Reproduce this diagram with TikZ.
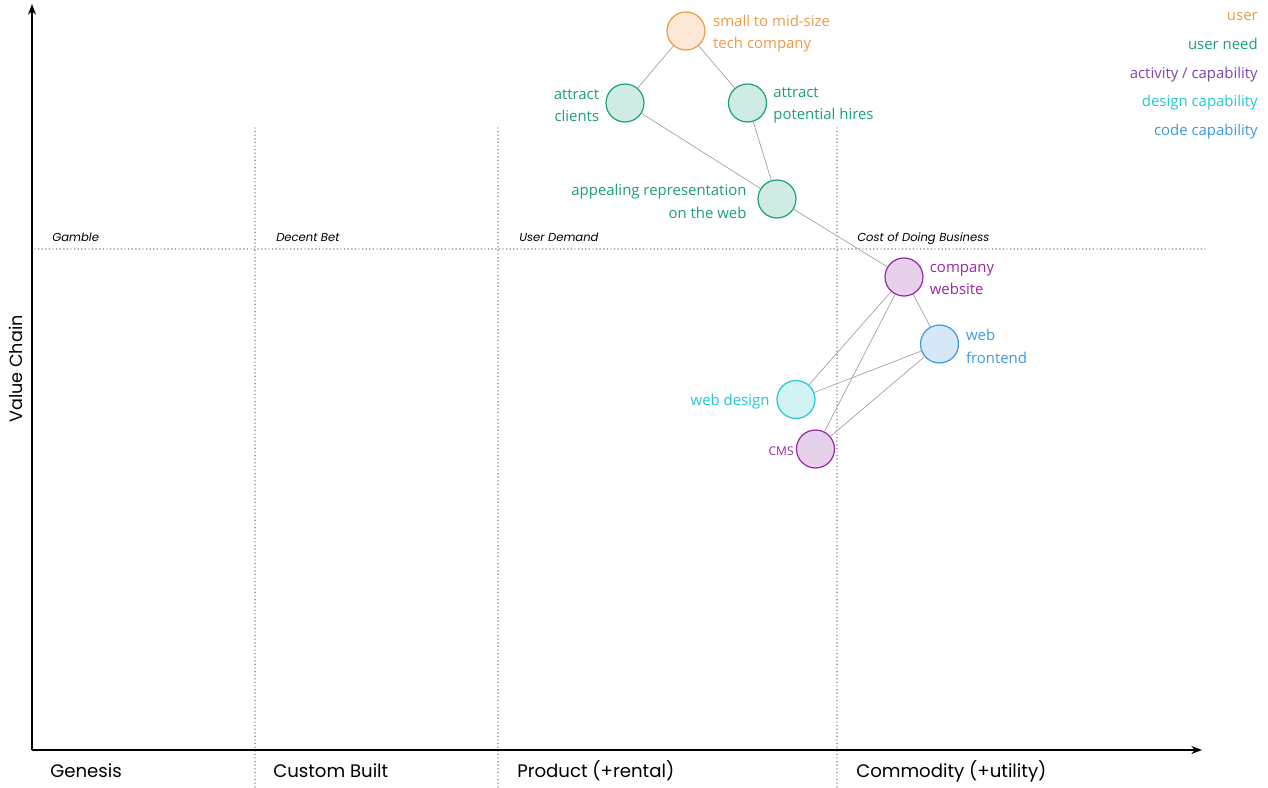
\documentclass[tikz,border=0pt]{standalone}
\usepackage{fontspec}
\setmainfont{Open Sans}
\newfontfamily\mapfont{Poppins}
\usetikzlibrary{positioning,arrows.meta}

\definecolor{userclr}{HTML}{EE9A45}
\definecolor{userfill}{HTML}{FCE8D5}
\definecolor{needclr}{HTML}{1A9E7E}
\definecolor{needfill}{HTML}{CFEBE3}
\definecolor{actclr}{HTML}{9A24A6}
\definecolor{actfill}{HTML}{E7D0EC}
\definecolor{legactclr}{HTML}{7E44B0}
\definecolor{designclr}{HTML}{22C7D0}
\definecolor{designfill}{HTML}{D1F3F4}
\definecolor{codeclr}{HTML}{3C98E0}
\definecolor{codefill}{HTML}{D6E8F8}

\tikzset{
  comp/.style={circle, minimum size=28.5pt, inner sep=0pt, line width=0.9pt},
  usercomp/.style={comp, draw=userclr, fill=userfill},
  needcomp/.style={comp, draw=needclr, fill=needfill},
  actcomp/.style={comp, draw=actclr, fill=actfill},
  designcomp/.style={comp, draw=designclr, fill=designfill},
  codecomp/.style={comp, draw=codeclr, fill=codefill},
  lbl/.style={font=\fontsize{11.2}{16.8}\selectfont, inner sep=0pt, yshift=-1.8pt},
  legend/.style={font=\fontsize{11.2}{13}\selectfont, inner sep=0pt, anchor=base east},
  link/.style={draw=gray!75, line width=0.5pt},
  stage/.style={font=\mapfont\itshape\fontsize{8.7}{10}\selectfont, inner sep=0pt, anchor=base west},
  phase/.style={font=\mapfont\fontsize{13.6}{16}\selectfont, inner sep=0pt, anchor=base west},
  divider/.style={draw=black!62, line width=1.1pt, line cap=round, dash pattern=on 0pt off 2.7pt},
  axis/.style={draw=black, line width=1.1pt, -{Stealth[length=8pt,width=6pt]}},
}

\begin{document}
\begin{tikzpicture}[x=0.75pt, y=-0.75pt]
  \useasboundingbox (0,0) rectangle (1268,788);

  % evolution stages
  \draw[divider] (255,128) -- (255,788);
  \draw[divider] (498,128) -- (498,788);
  \draw[divider] (837,128) -- (837,788);
  \draw[divider] (35,249) -- (1205,249);
  \node[stage] (gamble) at (52,242) {Gamble};
  \node[stage] (decent) at (276,242) {Decent Bet};
  \node[stage] (demand) at (519,242) {User Demand};
  \node[stage] (cost) at (857,242) {Cost of Doing Business};

  % axes
  \coordinate (origin) at (32,750);
  \coordinate (ytop) at (32,4);
  \coordinate (xend) at (1202,750);
  \draw[axis] (origin) -- (ytop);
  \draw[axis] (origin) -- (xend);
  \node[phase] (genesis) at (50,777) {Genesis};
  \node[phase] (custom) at (273,777) {Custom Built};
  \node[phase] (product) at (517,777) {Product (+rental)};
  \node[phase] (commodity) at (856,777) {Commodity (+utility)};
  \node[font=\mapfont\fontsize{13.2}{15}\selectfont, rotate=90] (valuechain) at (16,369) {Value Chain};

  % components
  \node[usercomp] (user) at (686,31) {};
  \node[needcomp] (clients) at (625,103) {};
  \node[needcomp] (hires) at (747.5,103) {};
  \node[needcomp] (appeal) at (777,199) {};
  \node[actcomp] (website) at (904,277) {};
  \node[codecomp] (frontend) at (939.5,344) {};
  \node[designcomp] (design) at (796,399.5) {};
  \node[actcomp] (cms) at (815.5,449) {};

  \node[lbl, text=userclr, align=left, right=5.5pt of user] (userTxt) {small to mid-size\\tech company};
  \node[lbl, text=needclr, align=right, left=4.5pt of clients] (clientsTxt) {attract\\clients};
  \node[lbl, text=needclr, align=left, right=4.5pt of hires] (hiresTxt) {attract\\potential hires};
  \node[lbl, text=needclr, align=right, left=8pt of appeal] (appealTxt) {appealing representation\\on the web};
  \node[lbl, text=actclr, align=left, right=4.5pt of website] (websiteTxt) {company\\website};
  \node[lbl, text=codeclr, align=left, right=5pt of frontend] (frontendTxt) {web\\frontend};
  \node[lbl, text=designclr, left=5pt of design] (designTxt) {web design};
  \node[lbl, text=actclr, font=\fontsize{9}{10}\selectfont, left=1.5pt of cms] (cmsTxt) {CMS};

  % links
  \draw[link] (user) -- (clients);
  \draw[link] (user) -- (hires);
  \draw[link] (clients) -- (appeal);
  \draw[link] (hires) -- (appeal);
  \draw[link] (appeal) -- (website);
  \draw[link] (website) -- (frontend);
  \draw[link] (website) -- (design);
  \draw[link] (website) -- (cms);
  \draw[link] (frontend) -- (design);
  \draw[link] (frontend) -- (cms);

  % legend
  \node[legend, text=userclr] (legUser) at (1258,20.5) {user};
  \node[legend, text=needclr] (legNeed) at (1258,49.5) {user need};
  \node[legend, text=legactclr] (legAct) at (1258,78.5) {activity / capability};
  \node[legend, text=designclr] (legDesign) at (1258,106.5) {design capability};
  \node[legend, text=codeclr] (legCode) at (1258,135.5) {code capability};
\end{tikzpicture}
\end{document}
